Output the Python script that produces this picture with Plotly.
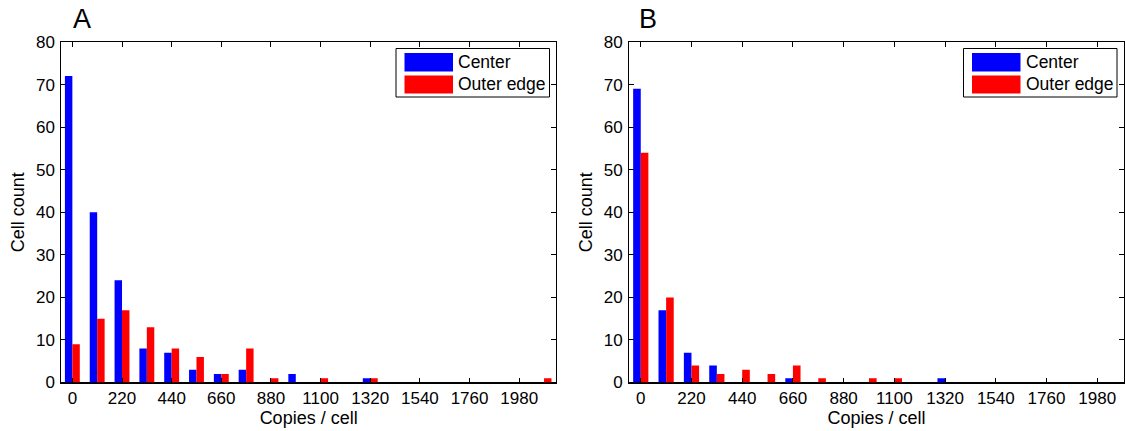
import plotly.graph_objects as go

# ---- data ----
bin_centers = [0, 110, 220, 330, 440, 550, 660, 770, 880, 990,
               1100, 1210, 1320, 1430, 1540, 1650, 1760, 1870, 1980, 2090]
tick_vals = [0, 220, 440, 660, 880, 1100, 1320, 1540, 1760, 1980]
tick_text = ["0", "220", "440", "660", "880", "1100", "1320", "1540", "1760", "1980"]

center_A = [72, 40, 24, 8, 7, 3, 2, 3, 0, 2, 0, 0, 1, 0, 0, 0, 0, 0, 0, 0]
outer_A = [9, 15, 17, 13, 8, 6, 2, 8, 1, 0, 1, 0, 1, 0, 0, 0, 0, 0, 0, 1]
center_B = [69, 17, 7, 4, 0, 0, 1, 0, 0, 0, 0, 0, 1, 0, 0, 0, 0, 0, 0, 0]
outer_B = [54, 20, 4, 2, 3, 2, 4, 1, 0, 1, 1, 0, 0, 0, 0, 0, 0, 0, 0, 0]

series_names = ["Center", "Outer edge"]
series_colors = ["#0000FF", "#FF0000"]
panel_labels = ["A", "B"]

W, H = 1125, 431
FONT = "Liberation Sans, Arial, Helvetica, sans-serif"


def px(x):
    return x / W


def py(y):
    return 1 - y / H


fig = go.Figure()

for vals, name, col in zip([center_A, outer_A], series_names, series_colors):
    fig.add_trace(go.Bar(x=bin_centers, y=vals, name=name, marker_color=col,
                         marker_line_width=0, xaxis="x", yaxis="y",
                         showlegend=False, offsetgroup=name))
for vals, name, col in zip([center_B, outer_B], series_names, series_colors):
    fig.add_trace(go.Bar(x=bin_centers, y=vals, name=name, marker_color=col,
                         marker_line_width=0, xaxis="x2", yaxis="y2",
                         showlegend=False, offsetgroup=name))

ydom = [py(382.5), py(42)]
common_x = dict(tickmode="array", tickvals=tick_vals, ticktext=tick_text,
                ticks="inside", ticklen=5, tickcolor="black", tickwidth=1,
                showline=True, linecolor="black", linewidth=1, mirror="ticks",
                showgrid=False, zeroline=False, automargin=False,
                tickfont=dict(family=FONT, size=17, color="black"),
                title=dict(text="Copies / cell", font=dict(family=FONT, size=18, color="black"),
                           standoff=1))
common_y = dict(range=[0, 80], tickmode="array", tickvals=list(range(0, 81, 10)),
                ticks="inside", ticklen=5, tickcolor="black", tickwidth=1,
                showline=True, linecolor="black", linewidth=1, mirror="ticks",
                showgrid=False, zeroline=True, zerolinecolor="black", zerolinewidth=2,
                ticklabelstandoff=2, automargin=False,
                tickfont=dict(family=FONT, size=17, color="black"),
                title=dict(text="Cell count", font=dict(family=FONT, size=18, color="black"),
                           standoff=6))

fig.update_layout(
    width=W, height=H,
    margin=dict(l=0, r=0, t=0, b=0),
    paper_bgcolor="white", plot_bgcolor="white",
    barmode="group", bargap=0.4, bargroupgap=0.0,
    font=dict(family=FONT, size=17, color="black"),
    xaxis=dict(domain=[px(61.3), px(556)], range=[-49, 2143], anchor="y", **common_x),
    yaxis=dict(domain=ydom, anchor="x", **common_y),
    xaxis2=dict(domain=[px(629), px(1124)], range=[-51, 2096], anchor="y2", **common_x),
    yaxis2=dict(domain=ydom, anchor="x2", **common_y),
    showlegend=False,
)

# panel labels
for lab, xc in zip(panel_labels, [82, 648]):
    fig.add_annotation(text=lab, x=px(xc), y=py(18.5), xref="paper", yref="paper",
                       showarrow=False, xanchor="center", yanchor="middle",
                       font=dict(family=FONT, size=27, color="black"))

# legends (one per panel)
for box_left in [396, 963.5]:
    box_right = box_left + 153.5
    fig.add_shape(type="rect", xref="paper", yref="paper",
                  x0=px(box_left), x1=px(box_right), y0=py(97), y1=py(48.5),
                  line=dict(color="black", width=1), fillcolor="white", layer="above")
    rows = [(53, 71.5, 62.3), (75.5, 93.5, 84)]
    for (y0, y1, yc), name, col in zip(rows, series_names, series_colors):
        fig.add_shape(type="rect", xref="paper", yref="paper",
                      x0=px(box_left + 8.5), x1=px(box_left + 57), y0=py(y1), y1=py(y0),
                      line=dict(width=0), fillcolor=col, layer="above")
        fig.add_annotation(text=name, x=px(box_left + 60), y=py(yc), xref="paper", yref="paper",
                           showarrow=False, xanchor="left", yanchor="middle",
                           font=dict(family=FONT, size=17.5, color="black"))

fig.write_html("out.html", config={"displayModeBar": False},
               post_script="document.body.style.margin='0px';")
